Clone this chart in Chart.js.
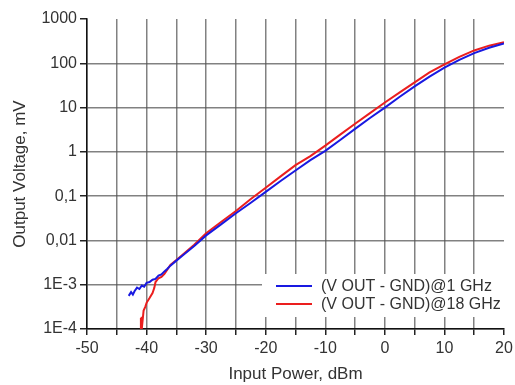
<!DOCTYPE html>
<html>
<head>
<meta charset="utf-8">
<script src="https://cdn.jsdelivr.net/npm/chart.js@4"></script>
<style>
  html, body { margin: 0; padding: 0; background: #fff; }
  #wrap { width: 515px; height: 385px; }
</style>
</head>
<body>
<div id="wrap"><canvas id="chart"></canvas></div>
<script>
// values
const label1GHz = "(V OUT - GND)@1 GHz";
const label18GHz = "(V OUT - GND)@18 GHz";

const power1GHz = [-43, -42.6, -42.3, -42, -41.6, -41.2, -40.8, -40.4, -40, -39.5, -39, -38.5, -38, -37.5, -37, -36.5, -36, -35, -34, -32, -30, -27.5, -25, -22.5, -20, -17.5, -15, -12.5, -10, -7.5, -5, -2.5, 0, 2.5, 5, 7.5, 10, 12.5, 15, 17.5, 20];
const volt1GHz = [5.6e-4, 6.8e-4, 6.0e-4, 7.2e-4, 8.6e-4, 8.0e-4, 9.6e-4, 9.0e-4, 1.1e-3, 1.15e-3, 1.3e-3, 1.35e-3, 1.6e-3, 1.7e-3, 2.0e-3, 2.3e-3, 2.7e-3, 3.5e-3, 4.5e-3, 7.5e-3, 0.013, 0.023, 0.041, 0.071, 0.125, 0.22, 0.38, 0.65, 1.05, 1.85, 3.3, 5.8, 10, 17.5, 30, 50, 80, 120, 170, 225, 280];

const power18GHz = [-41, -40.95, -40.9, -40.8, -40.7, -40.5, -40.2, -40, -39.5, -39, -38.7, -38.5, -38, -37.5, -37, -36.5, -36, -35, -34, -32, -30, -27.5, -25, -22.5, -20, -17.5, -15, -12.5, -10, -7.5, -5, -2.5, 0, 2.5, 5, 7.5, 10, 12.5, 15, 17.5, 20];
const volt18GHz = [1e-4, 1.8e-4, 1.2e-4, 1.9e-4, 1.4e-4, 2.6e-4, 3.2e-4, 3.9e-4, 5.0e-4, 6.5e-4, 8.5e-4, 1.15e-3, 1.4e-3, 1.5e-3, 1.75e-3, 2.2e-3, 2.8e-3, 3.6e-3, 4.7e-3, 8e-3, 0.0145, 0.026, 0.046, 0.086, 0.155, 0.28, 0.5, 0.8, 1.38, 2.45, 4.3, 7.5, 13, 22, 37, 62, 95, 140, 195, 250, 300];

const yTicks = [1e-4, 1e-3, 0.01, 0.1, 1, 10, 100, 1000];
const yTickLabels = ["1E-4", "1E-3", "0,01", "0,1", "1", "10", "100", "1000"];

const toPoints = (xs, ys) => xs.map((x, i) => ({ x: x, y: ys[i] }));

const FONT = "'Liberation Sans', Arial, sans-serif";
const TEXT = "#333";
const GRID = "rgba(80,80,80,0.72)";

// legend drawn inside the plot, lower right, on a white box
const insideLegend = {
  id: "insideLegend",
  afterDatasetsDraw(chart) {
    const ctx = chart.ctx;
    const area = chart.chartArea;
    const x0 = area.right - 242, y0 = area.bottom - 55;
    ctx.save();
    ctx.fillStyle = "#fff";
    ctx.fillRect(x0, y0, 242, 43);
    ctx.font = "16px " + FONT;
    ctx.textBaseline = "middle";
    chart.data.datasets.forEach((ds, i) => {
      const y = y0 + 12 + i * 18;
      ctx.strokeStyle = ds.borderColor;
      ctx.lineWidth = 2;
      ctx.beginPath();
      ctx.moveTo(x0 + 14, y);
      ctx.lineTo(x0 + 50, y);
      ctx.stroke();
      ctx.fillStyle = TEXT;
      ctx.fillText(ds.label, x0 + 59, y + 1);
    });
    ctx.restore();
  }
};

const ctx = document.getElementById("chart").getContext("2d");
new Chart(ctx, {
  type: "line",
  data: {
    datasets: [
      {
        label: label1GHz,
        data: toPoints(power1GHz, volt1GHz),
        borderColor: "rgb(25,25,225)",
        borderWidth: 2,
        pointRadius: 0,
        fill: false,
        tension: 0
      },
      {
        label: label18GHz,
        data: toPoints(power18GHz, volt18GHz),
        borderColor: "rgb(235,30,30)",
        borderWidth: 2,
        pointRadius: 0,
        fill: false,
        tension: 0
      }
    ]
  },
  options: {
    responsive: true,
    maintainAspectRatio: false,
    animation: false,
    layout: { padding: { top: 19, right: 11, left: 0, bottom: 0 } },
    plugins: {
      legend: { display: false },
      tooltip: { enabled: false }
    },
    scales: {
      x: {
        type: "linear",
        min: -50,
        max: 20,
        afterFit: (s) => {
          s.height = 56;
          s.paddingLeft = 0;
          s.paddingRight = 0;
        },
        ticks: {
          stepSize: 5,
          color: TEXT,
          font: { family: FONT, size: 16 },
          maxRotation: 0,
          autoSkip: false,
          padding: 4,
          callback: (v) => (v % 10 === 0 ? String(v) : "")
        },
        grid: {
          color: (c) => (c.tick && c.tick.value === 20 ? "rgba(0,0,0,0)" : GRID),
          tickColor: "#222",
          lineWidth: 1.5,
          tickLength: 6
        },
        border: { color: "#111", width: 1.5 },
        title: {
          display: true,
          text: "Input Power, dBm",
          color: TEXT,
          font: { family: FONT, size: 17 },
          padding: { top: 0, bottom: 0 }
        }
      },
      y: {
        type: "logarithmic",
        min: 1e-4,
        max: 1000,
        afterFit: (s) => { s.width = 87; },
        afterBuildTicks: (axis) => {
          axis.ticks = yTicks.map((v) => ({ value: v }));
        },
        ticks: {
          color: TEXT,
          font: { family: FONT, size: 16 },
          padding: 3,
          callback: (v) => {
            const i = yTicks.findIndex((t) => Math.abs(Math.log10(t) - Math.log10(v)) < 1e-6);
            return i >= 0 ? yTickLabels[i] : "";
          }
        },
        grid: {
          color: (c) => (c.tick && c.tick.value === 1000 ? "rgba(0,0,0,0)" : GRID),
          tickColor: "#222",
          lineWidth: 1.5,
          tickLength: 7
        },
        border: { color: "#111", width: 1.5 },
        title: {
          display: true,
          text: "Output Voltage, mV",
          color: TEXT,
          font: { family: FONT, size: 17 },
          padding: { top: 10, bottom: 0 }
        }
      }
    }
  },
  plugins: [insideLegend]
});
</script>
</body>
</html>
